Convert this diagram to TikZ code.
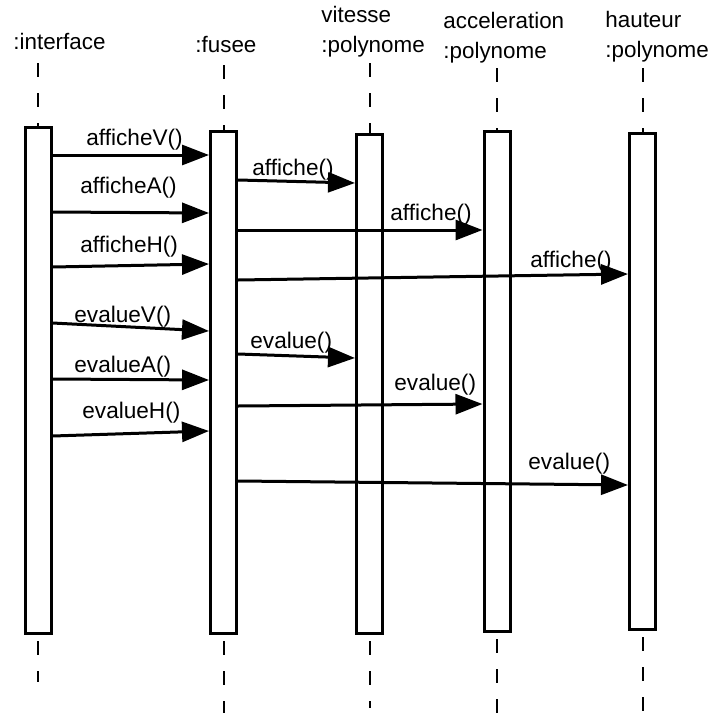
\documentclass[tikz,border=0pt]{standalone}
\usepackage{fontspec}
\setmainfont{Liberation Sans}
\usetikzlibrary{arrows.meta}

\tikzset{
  bar/.style={draw, line width=1.5pt, fill=white, minimum width=13pt, inner sep=0pt, anchor=north},
  lifeline/.style={line width=1pt, dash pattern=on 7pt off 8pt},
  msg/.style={line width=1.5pt, -{Triangle[length=13.5pt, width=10pt]}},
  objname/.style={font=\fontsize{11.2}{15}\selectfont, align=left, anchor=base west, inner sep=0pt},
  lbl/.style={font=\fontsize{11.3}{13}\selectfont, anchor=base west, inner sep=0pt}
}

\begin{document}
\begin{tikzpicture}[x=0.5pt, y=-0.5pt]
    \useasboundingbox (0,0) rectangle (712,713);

    % objects
    \node[objname] (hIface) at (13,49) {:interface};
    \node[objname] (hFusee) at (195,52) {:fusee};
    \node[objname] (hVit) at (321,52) {vitesse\\:polynome};
    \node[objname] (hAcc) at (443,58) {acceleration\\:polynome};
    \node[objname] (hHaut) at (605,57) {hauteur\\:polynome};

    % activation bars
    \node[bar, minimum height=253pt] (iface) at (38,126) {};
    \node[bar, minimum height=251pt] (fusee) at (223.5,130) {};
    \node[bar, minimum height=249.5pt] (vit) at (369.5,133) {};
    \node[bar, minimum height=250pt] (acc) at (497,130) {};
    \node[bar, minimum height=248pt] (haut) at (642.5,132) {};

    % lifelines
    \foreach \b/\ya/\yb in {iface/63/682, fusee/65/713, vit/63/708, acc/68/713, haut/68/713} {
        \draw[lifeline] (\b.north |- 0,\ya) -- (\b.north);
        \draw[lifeline] (\b.south) ++(0,6) -- (\b.south |- 0,\yb);
    }

    % messages
    \foreach \s/\d/\ya/\yb in {iface/fusee/155/155, iface/fusee/212/213, iface/fusee/267/264,
        iface/fusee/323/331, iface/fusee/379/380, iface/fusee/436/431,
        fusee/vit/180/183, fusee/acc/230/230, fusee/haut/280/274,
        fusee/vit/354/358, fusee/acc/406/404, fusee/haut/481/485}
        \draw[msg] (\s.east |- 0,\ya) -- (\d.west |- 0,\yb);

    % labels
    \foreach \n/\x/\y/\t in {m1/86/145/afficheV(), m2/80/193/afficheA(), m3/80/252/afficheH(),
        m4/74/322/evalueV(), m5/74/372/evalueA(), m6/82/418/evalueH(),
        m7/252/175/affiche(), m8/390/220/affiche(), m9/530/267/affiche(),
        m10/250/348/evalue(), m11/394/390/evalue(), m12/528/469/evalue()}
        \node[lbl] (\n) at (\x,\y) {\t};
\end{tikzpicture}
\end{document}
